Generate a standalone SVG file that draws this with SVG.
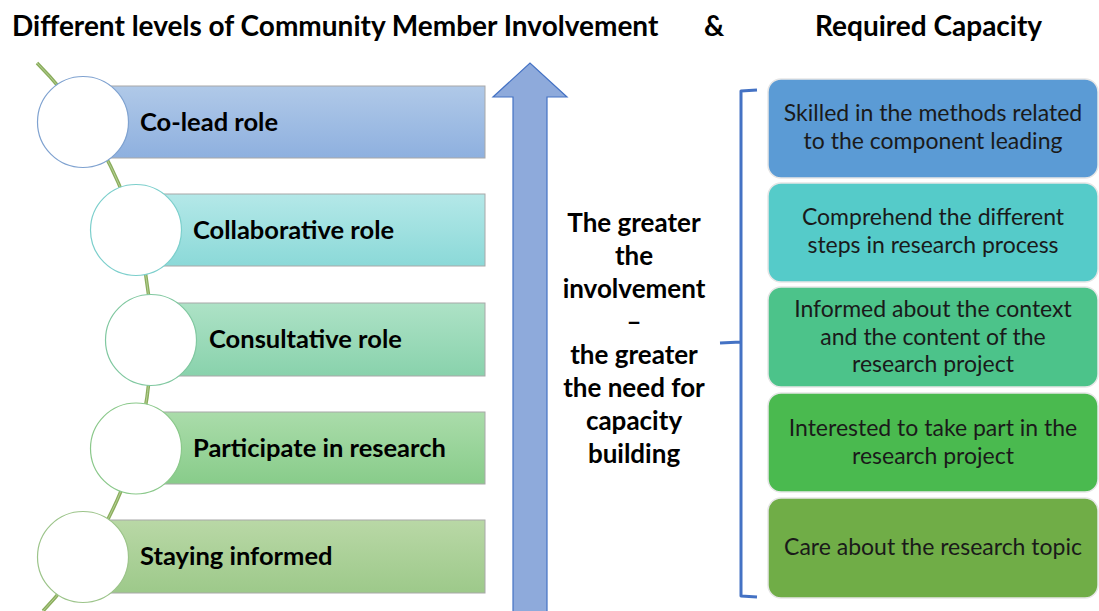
<svg xmlns="http://www.w3.org/2000/svg" width="1099" height="611" viewBox="0 0 1099 611">
<defs>
<linearGradient id="g1" x1="0" y1="0" x2="0" y2="1"><stop offset="0" stop-color="#b0c9e8"/><stop offset="1" stop-color="#8eb0df"/></linearGradient>
<linearGradient id="g2" x1="0" y1="0" x2="0" y2="1"><stop offset="0" stop-color="#b4e8e8"/><stop offset="1" stop-color="#8bd9d8"/></linearGradient>
<linearGradient id="g3" x1="0" y1="0" x2="0" y2="1"><stop offset="0" stop-color="#ade2c6"/><stop offset="1" stop-color="#89d2ac"/></linearGradient>
<linearGradient id="g4" x1="0" y1="0" x2="0" y2="1"><stop offset="0" stop-color="#aadcaa"/><stop offset="1" stop-color="#88cc8a"/></linearGradient>
<linearGradient id="g5" x1="0" y1="0" x2="0" y2="1"><stop offset="0" stop-color="#b9d8a6"/><stop offset="1" stop-color="#9dc98a"/></linearGradient>
</defs>
<style>
.title{font-family:Lato,"Liberation Sans",sans-serif;font-weight:bold;font-size:28px;fill:#000}
.bar{stroke:#a8a8a8;stroke-width:1}
.circ{fill:#fff;stroke-width:1.2}
.lbl{font-family:Lato,"Liberation Sans",sans-serif;font-weight:bold;font-size:25.5px;fill:#000}
.mid{font-family:Lato,"Liberation Sans",sans-serif;font-weight:bold;font-size:26px;fill:#000;text-anchor:middle}
.box{stroke:#e6e6e6;stroke-width:1.5}
.bt{font-family:Lato,"Liberation Sans",sans-serif;font-size:23px;fill:#1a1a1a;text-anchor:middle}
</style>
<rect width="1099" height="611" fill="#fff"/>
<g id="titles">
<text class="title" x="12" y="36">Different levels of Community Member Involvement</text>
<text class="title" x="704" y="36">&amp;</text>
<text class="title" x="815" y="36">Required Capacity</text>
</g>
<g id="connectors">
<path d="M37,63 A393.5,393.5 0 0 1 43,611" fill="none" stroke="#8aad5c" stroke-width="3.5"/>
<path d="M37,63 A393.5,393.5 0 0 1 43,611" fill="none" stroke="#b5cf95" stroke-width="1"/>
</g>
<g id="level1">
<rect class="bar" x="83" y="86" width="402" height="72" fill="url(#g1)"/>
<circle class="circ" cx="83" cy="122" r="45.5" stroke="#7fa2d0"/>
<text class="lbl" x="140" y="131">Co-lead role</text>
</g>
<g id="level2">
<rect class="bar" x="136" y="194" width="349" height="72" fill="url(#g2)"/>
<circle class="circ" cx="136" cy="230" r="45.5" stroke="#7ccfcc"/>
<text class="lbl" x="193" y="239">Collaborative role</text>
</g>
<g id="level3">
<rect class="bar" x="151" y="303" width="334" height="73" fill="url(#g3)"/>
<circle class="circ" cx="151" cy="340" r="45.5" stroke="#80c8a0"/>
<text class="lbl" x="209" y="348">Consultative role</text>
</g>
<g id="level4">
<rect class="bar" x="136" y="412" width="349" height="72" fill="url(#g4)"/>
<circle class="circ" cx="136" cy="448.5" r="45.5" stroke="#8ac88a"/>
<text class="lbl" x="193" y="457">Participate in research</text>
</g>
<g id="level5">
<rect class="bar" x="83" y="520" width="402" height="73" fill="url(#g5)"/>
<circle class="circ" cx="83" cy="557" r="45.5" stroke="#9cc48a"/>
<text class="lbl" x="140" y="565">Staying informed</text>
</g>
<g id="arrow">
<path d="M513,611 L513,97 L493,97 L530,63 L567,97 L547,97 L547,611" fill="#8eaadb" stroke="#4472c4" stroke-width="1.2"/>
</g>
<g id="arrow-label">
<text class="mid" x="634" y="232">The greater</text>
<text class="mid" x="634" y="265">the</text>
<text class="mid" x="634" y="298">involvement</text>
<text class="mid" x="634" y="331">–</text>
<text class="mid" x="634" y="364">the greater</text>
<text class="mid" x="634" y="397">the need for</text>
<text class="mid" x="634" y="430">capacity</text>
<text class="mid" x="634" y="463">building</text>
</g>
<g id="brace">
<path d="M757,90 L741,91 L741,342 L720,343 M741,342 L741,596 L757,597" fill="none" stroke="#4472c4" stroke-width="3" stroke-linejoin="round"/>
</g>
<g id="cap1">
<rect class="box" x="768" y="79" width="330" height="99" rx="13" fill="#5b9bd5"/>
<text class="bt" x="933" y="121">Skilled in the methods related</text>
<text class="bt" x="933" y="149">to the component leading</text>
</g>
<g id="cap2">
<rect class="box" x="768" y="183" width="330" height="99" rx="13" fill="#55cbc9"/>
<text class="bt" x="933" y="225">Comprehend the different</text>
<text class="bt" x="933" y="253">steps in research process</text>
</g>
<g id="cap3">
<rect class="box" x="768" y="287" width="330" height="100" rx="13" fill="#4cc38a"/>
<text class="bt" x="933" y="317">Informed about the context</text>
<text class="bt" x="933" y="345">and the content of the</text>
<text class="bt" x="933" y="372">research project</text>
</g>
<g id="cap4">
<rect class="box" x="768" y="393" width="330" height="99" rx="13" fill="#4aba4f"/>
<text class="bt" x="933" y="436">Interested to take part in the</text>
<text class="bt" x="933" y="464">research project</text>
</g>
<g id="cap5">
<rect class="box" x="768" y="498" width="330" height="100" rx="13" fill="#70ad47"/>
<text class="bt" x="933" y="555">Care about the research topic</text>
</g>
</svg>
